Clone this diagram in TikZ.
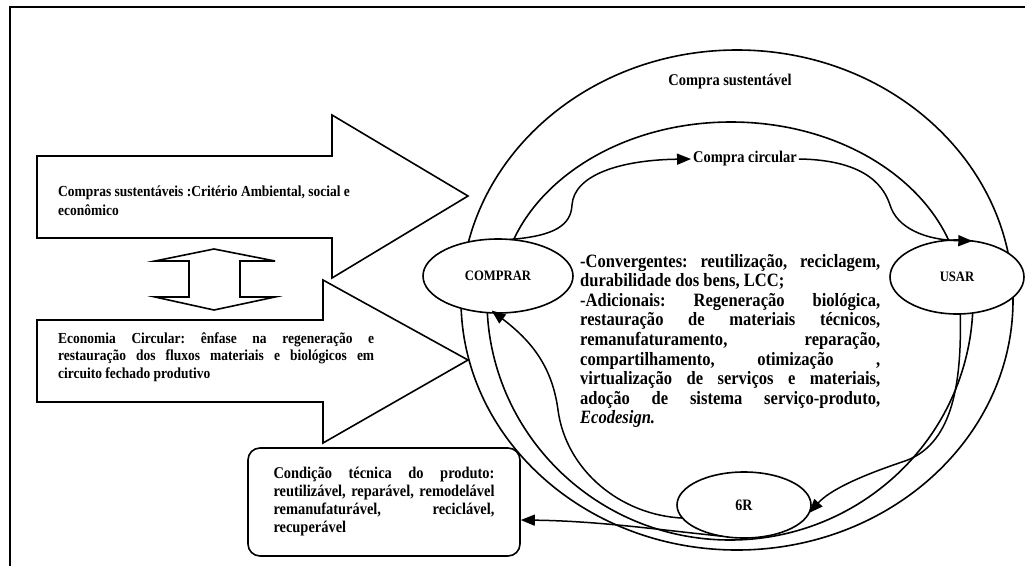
\documentclass[tikz,border=0pt]{standalone}
\usepackage{fontspec}
\setmainfont{Liberation Serif}
\newfontfamily\narrowserif[FakeStretch=0.88]{Liberation Serif}
\usetikzlibrary{shapes.geometric,arrows.meta,calc}
\tolerance=9999
\hbadness=10000
\hyphenpenalty=10000
\exhyphenpenalty=10000
\frenchspacing
\begin{document}
\begin{tikzpicture}[x=1pt,y=-1pt,
  outline/.style={line width=1.6pt, line join=miter},
  ring/.style={line width=1.6pt},
  stage/.style={ellipse, draw, line width=1.6pt, fill=white, inner sep=0pt, outer sep=0pt,
    font=\narrowserif\fontsize{14.4}{16}\selectfont\bfseries},
  flow/.style={line width=1.5pt, -{Triangle[length=14pt,width=11pt]}},
  body/.style={font=\narrowserif\fontsize{15.3}{18}\selectfont\bfseries, inner sep=0pt},
]
\useasboundingbox (0,0) rectangle (1025,565);

% frame
\draw[line width=2.5pt] (10,570) -- (10,7) -- (1030,7);

% block arrows on the left
\draw[outline] (37,156) -- (332,156) -- (332,115) -- (468,196) -- (332,278) -- (332,238) -- (37,238) -- cycle;
\draw[outline] (37,320) -- (323,320) -- (323,280) -- (468,360) -- (323,443) -- (323,402) -- (37,402) -- cycle;

% double-headed vertical arrow
\draw[outline] (214,249) -- (275,261) -- (240,261) -- (240,297) -- (275,297) -- (214,310)
  -- (155,297) -- (189,297) -- (189,261) -- (155,261) -- cycle;

\node[body, font=\narrowserif\fontsize{15.3}{19}\selectfont\bfseries, anchor=west, align=left] (sust) at (58,201)
  {Compras sustentáveis :Critério Ambiental, social e\\econômico};
\node[body, font=\narrowserif\fontsize{15.3}{17.5}\selectfont\bfseries, anchor=west, text width=316pt, align=justify] (ec) at (58,357)
  {Economia Circular: ênfase na regeneração e\linebreak restauração dos fluxos materiais e biológicos em\linebreak circuito fechado produtivo};

% rings of the cycle
\draw[ring] (737,300) ellipse [x radius=276pt, y radius=250pt];
\draw[ring] (500,300) arc[start angle=180, end angle=0, x radius=231pt, y radius=178pt];
\draw[ring] (487,300) arc[start angle=180, end angle=360, x radius=243pt, y radius=240pt];

\node[body, font=\narrowserif\fontsize{16.4}{18}\selectfont\bfseries] (title) at (730,82) {Compra sustentável};

% stages
\node[stage, minimum width=150pt, minimum height=74pt] (comprar) at (498,276) {COMPRAR};
\node[stage, minimum width=134pt, minimum height=74pt] (usar) at (957,277) {USAR};
\node[stage, minimum width=134pt, minimum height=66pt, font=\narrowserif\fontsize{15.9}{17}\selectfont\bfseries] (sixr) at (744,505) {6R};

\node[body, font=\narrowserif\fontsize{16.4}{18}\selectfont\bfseries, inner sep=2pt] (circ) at (745,159) {Compra circular};

\node[body, font=\narrowserif\fontsize{18.8}{19.6}\selectfont\bfseries, anchor=west, text width=300pt, align=justify] (mid) at (580,341)
  {-Convergentes: reutilização, reciclagem,\linebreak durabilidade dos bens, LCC;\newline
   -Adicionais: Regeneração biológica,\linebreak restauração de materiais técnicos,\linebreak
   remanufaturamento, reparação,\linebreak compartilhamento, otimização ,\linebreak
   virtualização de serviços e materiais,\linebreak adoção de sistema serviço-produto,\linebreak
   \textit{Ecodesign.}};

\node[body, font=\narrowserif\fontsize{16.4}{18}\selectfont\bfseries, draw, line width=1.6pt, rounded corners=12pt,
  fill=white, minimum width=272pt, minimum height=108pt, text width=221pt, align=justify] (cond) at (384,502)
  {Condição técnica do produto:\linebreak reutilizável, reparável, remodelável\linebreak remanufaturável, reciclável,\linebreak recuperável};

% connectors
\draw[flow] (comprar.72) .. controls (555,236) and (571,225) .. (572,205)
  .. controls (574,175) and (620,160) .. (circ.west);
\draw[flow] (circ.east) .. controls (870,160) and (885,190) .. (890,205)
  .. controls (897,228) and (925,240) .. (usar.67);
\draw[flow] (usar.-85) .. controls (962,390) and (950,445) .. (905,461)
  .. controls (860,476) and (830,490) .. (sixr.-7);
\draw[flow, shorten >=-4pt] (sixr.192) .. controls (620,515) and (566,470) .. (558,410)
  .. controls (552,365) and (530,340) .. (comprar.-95);
\draw[flow] (sixr.235) .. controls (660,530) and (600,521) .. ($(cond.east)+(0,18)$);
\end{tikzpicture}
\end{document}
